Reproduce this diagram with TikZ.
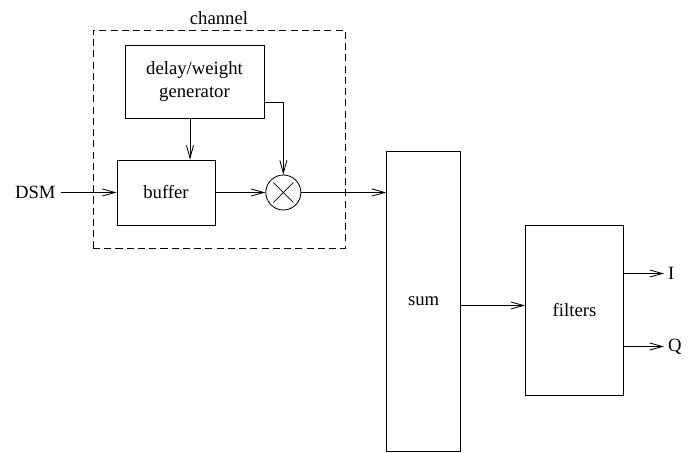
\documentclass[tikz,border=0pt]{standalone}
\usepackage{fontspec}
\setmainfont{Liberation Serif}
\usepackage{tikz}
\usetikzlibrary{arrows.meta, positioning, calc}
\tikzset{
  block/.style={rectangle,draw=black,line width=0.6pt,inner sep=0pt,align=center},
  mixer/.style={circle,draw=black,line width=0.6pt,minimum size=0.875cm,inner sep=0pt,
    path picture={\draw[line width=0.5pt] ($(path picture bounding box.center)+(-0.25,-0.25)$) -- ($(path picture bounding box.center)+(0.25,0.25)$)
      ($(path picture bounding box.center)+(-0.25,0.25)$) -- ($(path picture bounding box.center)+(0.25,-0.25)$);}},
  channelbox/.style={rectangle,draw=black,dash pattern=on 5pt off 3pt,line width=0.5pt,inner sep=0pt},
  signal/.style={line width=0.6pt,-{Straight Barb[length=9pt,width=5pt]}},
}

\begin{document}
\begin{tikzpicture}[font=\fontsize{13.3}{16.3}\selectfont]
	    \useasboundingbox (0,0) rectangle (17.425,-11.325);
	    \node[channelbox,minimum width=6.3cm,minimum height=5.45cm,label=above:channel] (channel) at (5.475,-3.475) {};
	    \node[block,minimum width=2.45cm,minimum height=1.625cm] (buffer) at (4.15,-4.8125) {buffer};
	    \node[block,minimum width=3.475cm,minimum height=1.825cm,above=1.025cm of buffer,xshift=0.7125cm] (gen) {delay/weight\\generator};
	    \node[mixer,right=1.25cm of buffer] (mix) {};
	    \node[left=1.4cm of buffer] (dsm) {DSM};
	    \node[block,minimum width=1.85cm,minimum height=7.5cm,right=2.125cm of mix,yshift=-2.725cm] (sum) {sum};
	    \node[block,minimum width=2.45cm,minimum height=4.25cm,right=1.6cm of sum,yshift=-0.225cm] (filters) {filters};
	    \node[right=1cm of filters.east,yshift=0.925cm,inner sep=0.1cm] (I) {I};
	    \node[right=1cm of filters.east,yshift=-0.9cm,inner sep=0.1cm] (Q) {Q};
	    \draw[signal] (dsm) -- (buffer);
	    \draw[signal] ([xshift=-0.1125cm]gen.south) -- ([xshift=-0.1125cm]gen.south |- buffer.north);
	    \draw[signal] (buffer) -- (mix);
	    \draw[signal] ([yshift=-0.5125cm]gen.east) -| (mix.north);
	    \draw[signal] (mix.east) -- (mix.east -| sum.west);
	    \draw[signal] ([yshift=0.125cm]filters.west -| sum.east) -- ([yshift=0.125cm]filters.west);
	    \draw[signal] (I.west -| filters.east) -- (I.west);
	    \draw[signal] (Q.west -| filters.east) -- (Q.west);
	\end{tikzpicture}
\end{document}
